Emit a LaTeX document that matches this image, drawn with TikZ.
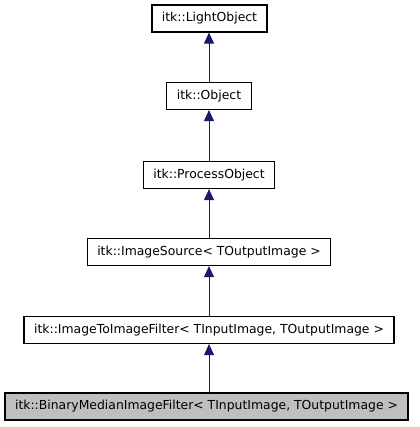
\documentclass[tikz,border=0pt]{standalone}
\usepackage{fontspec}
\setmainfont{DejaVu Sans}
\usetikzlibrary{arrows.meta}
\definecolor{edgeblue}{RGB}{25,25,112}
\tikzset{
    classbox/.style={draw, line width=1.2pt, fill=white, minimum height=27pt, inner xsep=10pt, font=\fontsize{12.4}{14}\selectfont},
    inherit/.style={edgeblue, line width=1pt, {Triangle[length=11pt, width=10pt]}-}
}
\begin{document}
\begin{tikzpicture}[x=1pt, y=-1pt]
    \useasboundingbox (0,0) rectangle (419,427);
    
    % 类框
    \node[classbox] (light) at (209.5,18.5) {itk::LightObject};
    \node[classbox] (object) at (209,96) {itk::Object};
    \node[classbox] (process) at (209,175) {itk::ProcessObject};
    \node[classbox] (source) at (209,252) {itk::ImageSource< TOutputImage >};
    \node[classbox] (filter) at (209,330) {itk::ImageToImageFilter< TInputImage, TOutputImage >};
    \node[classbox, fill=black!25] (median) at (206.5,406.5) {itk::BinaryMedianImageFilter< TInputImage, TOutputImage >};
    
    % 继承箭头
    \draw[inherit] (object |- light.south) -- (object);
    \draw[inherit] (process |- object.south) -- (process);
    \draw[inherit] (process.south) -- (source);
    \draw[inherit] (source.south) -- (filter);
    \draw[inherit] (filter.south) -- (filter |- median.north);
\end{tikzpicture}
\end{document}
